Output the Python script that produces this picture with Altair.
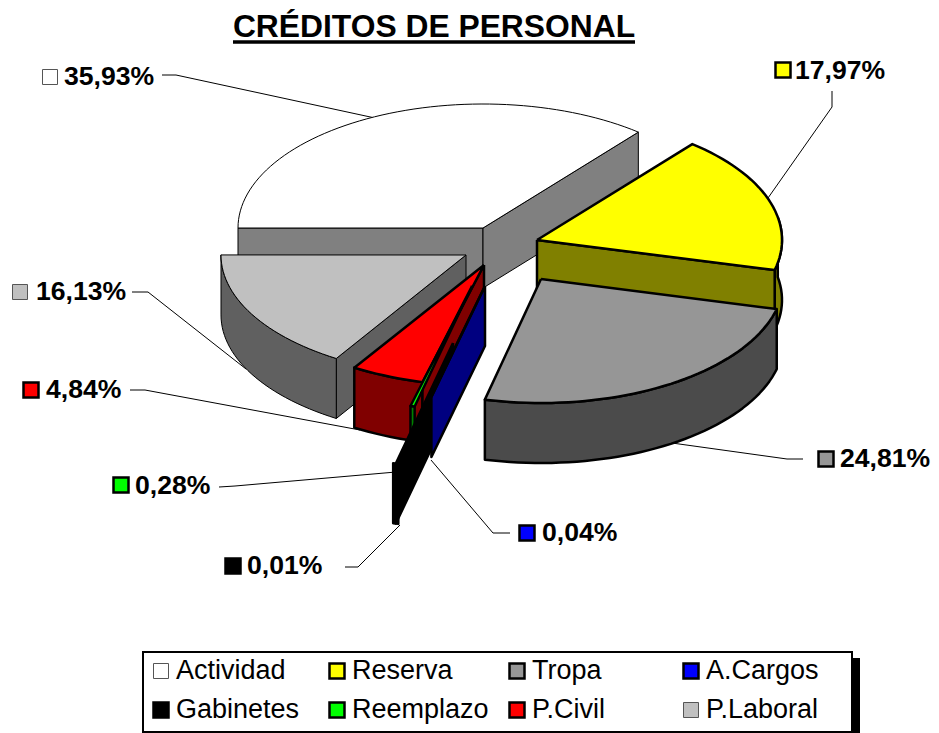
import math
import altair as alt
import pandas as pd

# ---- values
CATEGORIES = ["Actividad", "Reserva", "Tropa", "A.Cargos", "Gabinetes", "Reemplazo", "P.Civil", "P.Laboral"]
PERCENTS = [35.93, 17.97, 24.81, 0.04, 0.01, 0.28, 4.84, 16.13]
LABELS = ["35,93%", "17,97%", "24,81%", "0,04%", "0,01%", "0,28%", "4,84%", "16,13%"]
TOP_COLORS = ["#ffffff", "#ffff00", "#969696", "#0000ff", "#000000", "#00ff00", "#ff0000", "#c0c0c0"]
WALL_COLORS = ["#808080", "#808000", "#4b4b4b", "#000080", "#000000", "#008000", "#800000", "#606060"]
SWATCH_EDGES = ["#555555", "#000000", "#000000", "#000000", "#000000", "#000000", "#000000", "#555555"]
SWATCH_WIDTHS = [1, 2.5, 2.5, 2.5, 2.5, 2.5, 2.5, 1]

# ---- layout of the exploded 3-D pie
START_ANGLE = 270.0
DEPTH = 60
RX, RY = 245, 124
APEX = {
    "Actividad": (483, 228), "Reserva": (537, 240), "Tropa": (541, 279), "A.Cargos": (485, 286),
    "Gabinetes": (453, 343), "Reemplazo": (472, 286), "P.Civil": (484, 265), "P.Laboral": (466, 255),
}
RADII = {"A.Cargos": (232, 114), "P.Civil": (245, 121), "P.Laboral": (245, 122), "Tropa": (243, 124)}
EDGE = {"Actividad": 1, "P.Laboral": 1}
LABEL_POS = {
    "Actividad": (64, 77), "Reserva": (795, 71), "Tropa": (840, 459), "A.Cargos": (542, 533),
    "Gabinetes": (247, 566), "Reemplazo": (135, 486), "P.Civil": (46, 390), "P.Laboral": (36, 292),
}
SWATCH_POS = {
    "Actividad": (50, 77), "Reserva": (783, 70), "Tropa": (826, 459), "A.Cargos": (527, 533),
    "Gabinetes": (233, 566), "Reemplazo": (121, 485), "P.Civil": (31, 390), "P.Laboral": (20, 292),
}
LEADERS = {
    "Actividad": [(162, 75), (176, 75), (375, 118)],
    "Reserva": [(832, 91), (832, 107), (768, 198)],
    "Tropa": [(803, 459), (787, 459), (672, 443)],
    "A.Cargos": [(510, 533), (493, 533), (431, 460)],
    "Gabinetes": [(345, 567), (358, 567), (400, 525)],
    "Reemplazo": [(219, 487), (235, 486), (396, 472)],
    "P.Civil": [(130, 390), (145, 390), (360, 430)],
    "P.Laboral": [(132, 292), (148, 292), (246, 369)],
}
LEGEND_COLS = [153, 329, 509, 683]
LEGEND_ROWS = [671, 710]

X = lambda: alt.X("x:Q", axis=None, scale=alt.Scale(domain=[8, 931], range=[0, 923], nice=False, zero=False))
Y = lambda: alt.Y("y:Q", axis=None, scale=alt.Scale(domain=[8, 733], range=[0, 725], nice=False, zero=False))
FONT = "Liberation Sans"

# sweep of each slice, clockwise from north, from the percentages
spans = {}
a = START_ANGLE
for c, p in zip(CATEGORIES, PERCENTS):
    spans[c] = (a, a + p * 3.6)
    a += p * 3.6


def rim(c, a0, a1, dz=0, reverse=False):
    ax, ay = APEX[c]
    rx, ry = RADII.get(c, (RX, RY))
    n = max(2, int(abs(a1 - a0) / 2) + 2)
    pts = []
    for k in range(n):
        t = math.radians(a0 + (a1 - a0) * k / (n - 1))
        pts.append((ax + rx * math.sin(t), ay - ry * math.cos(t) + dz))
    return pts[::-1] if reverse else pts


def poly(points, fill, edge):
    df = pd.DataFrame({"x": [p[0] for p in points] + [points[0][0]],
                       "y": [p[1] for p in points] + [points[0][1]]})
    df["i"] = range(len(df))
    return (alt.Chart(df)
            .mark_line(fill=fill, stroke="black", strokeWidth=edge, strokeJoin="round", clip=False)
            .encode(x=X(), y=Y(), order=alt.Order("i:Q")))


def top(c):
    a0, a1 = spans[c]
    i = CATEGORIES.index(c)
    return poly([APEX[c]] + rim(c, a0, a1), TOP_COLORS[i], EDGE.get(c, 2.5))


def cut(c, angle):
    i = CATEGORIES.index(c)
    p = rim(c, angle, angle)[0]
    ax, ay = APEX[c]
    return poly([(ax, ay), p, (p[0], p[1] + DEPTH), (ax, ay + DEPTH)], WALL_COLORS[i], EDGE.get(c, 2.5))


def outer(c, a0, a1):
    i = CATEGORIES.index(c)
    return poly(rim(c, a0, a1) + rim(c, a0, a1, DEPTH, True), WALL_COLORS[i], EDGE.get(c, 2.5))


def swatches(df):
    return alt.Chart(df).mark_square(size=225, opacity=1).encode(
        x=X(), y=Y(),
        fill=alt.Fill("f:N", scale=None),
        stroke=alt.Stroke("e:N", scale=None),
        strokeWidth=alt.StrokeWidth("w:Q", scale=None),
    )


layers = []

# legend frame and shadow
frame = pd.DataFrame({"x": [150, 143], "x2": [859, 852], "y": [659, 652], "y2": [733, 732],
                      "f": ["#000000", "#ffffff"]})
layers.append(alt.Chart(frame).mark_rect(stroke="black", strokeWidth=2, clip=False).encode(
    x=X(), x2="x2:Q", y=Y(), y2="y2:Q", fill=alt.Fill("f:N", scale=None)))

# leader lines
rows = [{"c": c, "i": i, "x": p[0], "y": p[1]} for c, pts in LEADERS.items() for i, p in enumerate(pts)]
layers.append(alt.Chart(pd.DataFrame(rows)).mark_line(color="black", strokeWidth=1).encode(
    x=X(), y=Y(), detail="c:N", order=alt.Order("i:Q")))

# painter's order, back to front
a0, a1 = spans["Actividad"]
layers += [cut("Actividad", a0), cut("Actividad", a1), top("Actividad")]
a0, a1 = spans["P.Laboral"]
layers += [cut("P.Laboral", a0), outer("P.Laboral", a0, a1), top("P.Laboral")]
a0, a1 = spans["Reserva"]
layers += [outer("Reserva", a0 + 40, a1), cut("Reserva", a1), top("Reserva")]
a0, a1 = spans["Tropa"]
layers += [outer("Tropa", a0, a1), top("Tropa")]
a0, a1 = spans["P.Civil"]
layers += [outer("P.Civil", a0, a1), cut("P.Civil", a0), top("P.Civil")]
a0, a1 = spans["Reemplazo"]
layers += [outer("Reemplazo", a0, a1), top("Reemplazo")]
a0, a1 = spans["Gabinetes"]
layers += [outer("Gabinetes", a0 - 0.6, a1 + 0.6), cut("Gabinetes", a0)]
a0, a1 = spans["A.Cargos"]
layers += [cut("A.Cargos", a0), top("A.Cargos")]

# data labels with their swatches
lab = pd.DataFrame({"x": [LABEL_POS[c][0] for c in CATEGORIES], "y": [LABEL_POS[c][1] for c in CATEGORIES],
                    "t": LABELS})
layers.append(alt.Chart(lab).mark_text(font=FONT, fontSize=26.6, fontWeight="bold", align="left",
                                       baseline="middle", color="black").encode(x=X(), y=Y(), text="t:N"))
sw = pd.DataFrame({"x": [SWATCH_POS[c][0] for c in CATEGORIES], "y": [SWATCH_POS[c][1] for c in CATEGORIES],
                   "f": TOP_COLORS, "e": SWATCH_EDGES, "w": SWATCH_WIDTHS})
layers.append(swatches(sw))

# legend entries
leg = pd.DataFrame({
    "x": [LEGEND_COLS[i % 4] + 8 for i in range(8)],
    "y": [LEGEND_ROWS[i // 4] for i in range(8)],
    "f": TOP_COLORS, "e": SWATCH_EDGES, "w": SWATCH_WIDTHS})
layers.append(swatches(leg))
legt = pd.DataFrame({
    "x": [LEGEND_COLS[i % 4] + 23 for i in range(8)],
    "y": [LEGEND_ROWS[i // 4] for i in range(8)],
    "t": CATEGORIES})
layers.append(alt.Chart(legt).mark_text(font=FONT, fontSize=27, align="left", baseline="middle",
                                        color="black").encode(x=X(), y=Y(), text="t:N"))

# title and its underline
ttl = pd.DataFrame({"x": [434], "y": [27], "t": ["CRÉDITOS DE PERSONAL"]})
layers.append(alt.Chart(ttl).mark_text(font=FONT, fontSize=31.8, fontWeight="bold", align="center",
                                       baseline="middle", color="black").encode(x=X(), y=Y(), text="t:N"))
ul = pd.DataFrame({"x": [233, 635], "y": [42, 42]})
layers.append(alt.Chart(ul).mark_line(color="black", strokeWidth=3.5).encode(x=X(), y=Y()))

chart = alt.layer(*layers).properties(
    width=923, height=725, padding=0, autosize=alt.AutoSizeParams(type="none"),
    background="white",
).configure_view(stroke=None)

chart.save("out.html", embed_options={"renderer": "svg", "actions": False})
